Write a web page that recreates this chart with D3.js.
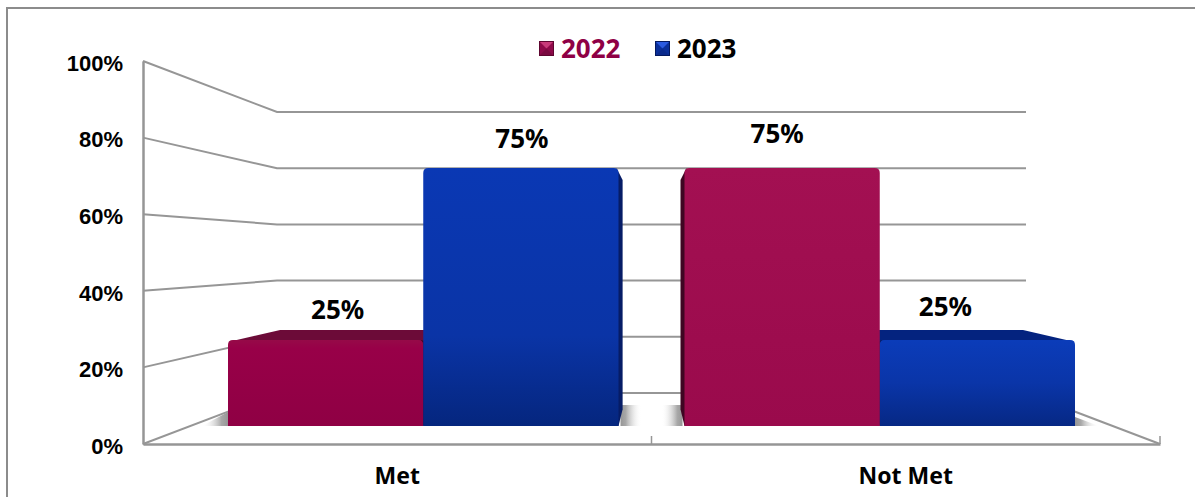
<!DOCTYPE html>
<html>
<head>
<meta charset="utf-8">
<script src="https://cdn.jsdelivr.net/npm/d3@7/dist/d3.min.js"></script>
<style>
  html, body { margin: 0; padding: 0; background: #fff; overflow: hidden; }
  svg { display: block; }
</style>
</head>
<body>
<svg id="chart" width="1195" height="497"></svg>
<script>
const categories = ["Met", "Not Met"];
const seriesNames = ["2022", "2023"];
const values2022 = [25, 75];
const values2023 = [75, 25];
const yTicks = [0, 20, 40, 60, 80, 100];

const svg = d3.select("#chart");
const defs = svg.append("defs");
const GRID = "#969696";

// Vertical gradients for the bar faces
function gradient(id, stops, dir) {
  const g = defs.append("linearGradient").attr("id", id)
    .attr("x1", 0).attr("y1", 0)
    .attr("x2", dir === "h" ? 1 : 0).attr("y2", dir === "h" ? 0 : 1);
  stops.forEach(([o, c, a]) => g.append("stop").attr("offset", o).attr("stop-color", c)
    .attr("stop-opacity", a === undefined ? 1 : a));
}
gradient("red-tall", [[0, "#a31052"], [1, "#9a0a4c"]]);
gradient("red-short", [[0, "#960a48"], [0.1, "#980048"], [1, "#8f0044"]]);
gradient("blue-tall", [[0, "#0a38b4"], [0.65, "#0a34a6"], [1, "#05267e"]]);
gradient("blue-short", [[0, "#0b3cb9"], [0.5, "#0a35a8"], [1, "#062884"]]);
gradient("shade-right", [[0, "#969696"], [0.25, "#a8a8a8"], [1, "#ffffff", 0]], "h");
gradient("shade-left", [[0, "#ffffff", 0], [0.75, "#a8a8a8"], [1, "#969696"]], "h");

// Outer frame: top and left edges only
svg.append("path").attr("d", "M7,497V8H1195").attr("fill", "none")
  .attr("stroke", "#8c8c8c").attr("stroke-width", 2);

// Wall scales: the front edge of the box and its back plane
const yFront = d3.scaleLinear().domain([0, 100]).range([444, 61]);
const yBack = d3.scaleLinear().domain([0, 100]).range([393, 112]);
const xFrontEdges = d3.scaleLinear().domain([0, 1]).range([143, 1160]);
const xBackEdges = d3.scaleLinear().domain([0, 1]).range([277, 1026]);

const walls = svg.append("g").attr("fill", "none").attr("stroke", GRID).attr("stroke-width", 2);
yTicks.forEach(t => {
  walls.append("path").attr("d", d3.line()([
    [xFrontEdges(0), yFront(t)],
    [xBackEdges(0), yBack(t)],
    [xBackEdges(1), yBack(t)]
  ]));
});
walls.append("path").attr("d", d3.line()([
  [xBackEdges(1), yBack(0)],
  [xFrontEdges(1), yFront(0)]
]));

// Bar scales on the front plane
const x0 = d3.scaleBand().domain(categories).range([228, 1075]).paddingInner(0.1446);
const x1 = d3.scaleBand().domain(seriesNames).range([0, x0.bandwidth()]);
const yBar = d3.scaleLinear().domain([0, 100]).range([426, 82]);

// Where a front-plane point lands on the back face of a bar
const vanish = { x: 652, y: 258 }, depth = 0.877;
const backX = x => vanish.x + (x - vanish.x) * depth;
const backY = y => vanish.y + (y - vanish.y) * depth;

const bars = [];
categories.forEach((c, i) => {
  bars.push({ cat: c, series: "2022", value: values2022[i], hue: "red" });
  bars.push({ cat: c, series: "2023", value: values2023[i], hue: "blue" });
});
bars.forEach(b => {
  b.left = x0(b.cat) + x1(b.series);
  b.right = b.left + x1.bandwidth();
  b.top = yBar(b.value);
  b.base = yBar(0);
});

// Soft contact shadows on the floor, beside the two outer and two inner bar edges
const floorTop = 405, floorBase = yBar(0);
const shadows = svg.append("g");
const [metL, metR] = [x0("Met"), x0("Met") + x0.bandwidth()];
const [notL, notR] = [x0("Not Met"), x0("Not Met") + x0.bandwidth()];
shadows.append("path").attr("fill", "url(#shade-left)")
  .attr("d", d3.line()([[metL, floorBase - 14], [metL, floorBase], [metL - 26, floorBase]]));
shadows.append("path").attr("fill", "url(#shade-right)")
  .attr("d", d3.line()([[notR, floorBase - 9], [notR, floorBase], [notR + 24, floorBase]]));
shadows.append("rect").attr("x", metR + 2).attr("width", 21).attr("y", floorTop)
  .attr("height", floorBase - floorTop).attr("fill", "url(#shade-right)");
shadows.append("rect").attr("x", notL - 23).attr("width", 21).attr("y", floorTop)
  .attr("height", floorBase - floorTop).attr("fill", "url(#shade-left)");

// Bars: short ones first so the tall ones overlap their tops
const palette = {
  red: { top: "#6c0b38", side: "#3f0622" },
  blue: { top: "#04237f", side: "#061c66" }
};
const barLayer = svg.append("g");
bars.slice().sort((a, b) => a.value - b.value).forEach(b => {
  const g = barLayer.append("g");
  const colours = palette[b.hue];
  const r = 5;
  if (backY(b.top) < b.top) {
    g.append("path").attr("fill", colours.top).attr("d", d3.line()([
      [b.left, b.top + 2],
      [backX(b.left), backY(b.top)],
      [backX(b.right), backY(b.top)],
      [b.right, b.top + 2]
    ]));
  }
  if (backX(b.left) < b.left) {
    g.append("path").attr("fill", colours.side).attr("d", d3.line()([
      [b.left + 2, b.top],
      [backX(b.left), b.top + 12],
      [backX(b.left), backY(b.base) + 4],
      [b.left, b.base],
      [b.left + 2, b.base]
    ]));
  }
  if (backX(b.right) > b.right) {
    g.append("path").attr("fill", colours.side).attr("d", d3.line()([
      [b.right - 2, b.top],
      [backX(b.right), b.top + 12],
      [backX(b.right), backY(b.base) + 4],
      [b.right, b.base],
      [b.right - 2, b.base]
    ]));
  }
  const p = d3.path();
  p.moveTo(b.left, b.base);
  p.lineTo(b.left, b.top + r);
  p.quadraticCurveTo(b.left, b.top, b.left + r, b.top);
  p.lineTo(b.right - r, b.top);
  p.quadraticCurveTo(b.right, b.top, b.right, b.top + r);
  p.lineTo(b.right, b.base);
  p.closePath();
  g.append("path").attr("d", p.toString())
    .attr("fill", `url(#${b.hue}-${b.value > 50 ? "tall" : "short"})`);
});

const LABEL_FONT = "'Noto Sans', sans-serif";

// Value labels sit a little off-centre over their bars
const labelNudge = { "Met2022": [12, -21], "Met2023": [1, -20], "Not Met2022": [-5, -25], "Not Met2023": [-32, -24] };
svg.append("g").selectAll("text").data(bars).join("text")
  .attr("x", d => (d.left + d.right) / 2 + labelNudge[d.cat + d.series][0])
  .attr("y", d => d.top + labelNudge[d.cat + d.series][1])
  .attr("text-anchor", "middle")
  .attr("font-family", LABEL_FONT).attr("font-weight", 700).attr("font-size", 26)
  .attr("fill", "#000")
  .text(d => d.value + "%");

// Value axis on the front edge of the box
const yAxis = svg.append("g").attr("transform", `translate(${xFrontEdges(0)},0)`)
  .call(d3.axisLeft(yFront).tickValues(yTicks).tickFormat(d => d + "%").tickSize(0).tickPadding(20));
yAxis.select(".domain").attr("stroke", GRID).attr("stroke-width", 2.5);
yAxis.selectAll("text").attr("font-family", "'Liberation Sans', Arial, sans-serif")
  .attr("font-weight", 700).attr("font-size", 22).attr("fill", "#000").attr("dy", "0.42em");

// Category axis along the front edge of the floor
const xAxisScale = d3.scaleBand().domain(categories).range([xFrontEdges(0), xFrontEdges(1)]);
const xAxis = svg.append("g").attr("transform", `translate(0,${yFront(0)})`)
  .call(d3.axisBottom(xAxisScale).tickSize(0).tickPadding(24).tickSizeOuter(0));
xAxis.select(".domain").attr("stroke", GRID).attr("stroke-width", 2.5);
xAxis.selectAll("text").attr("font-family", LABEL_FONT)
  .attr("font-weight", 700).attr("font-size", 23).attr("fill", "#000");
// Separators between categories and at the far end
[xAxisScale("Not Met"), xFrontEdges(1)].forEach(xp => {
  xAxis.append("line").attr("x1", xp).attr("x2", xp).attr("y1", 0).attr("y2", -8)
    .attr("stroke", GRID).attr("stroke-width", 1.5);
});

// Legend with bevelled swatches
const legendX = d3.scaleOrdinal().domain(seriesNames).range([539, 655]);
const legendHue = { "2022": ["#8f0a4a", "#c93a7a", "#7a0a40", "#5f0630"], "2023": ["#0a2f9a", "#2a5ae0", "#0a2a8c", "#04195f"] };
const legendText = { "2022": "#8f0045", "2023": "#000" };
const legend = svg.append("g").selectAll("g").data(seriesNames).join("g")
  .attr("transform", d => `translate(${legendX(d)},41)`);
legend.each(function (d) {
  const g = d3.select(this), s = 15, c = s / 2, [base, hi, lo, edge] = legendHue[d];
  g.append("rect").attr("width", s).attr("height", s).attr("fill", base);
  g.append("path").attr("fill", hi).attr("d", d3.line()([[0, 0], [s, 0], [c, c]]));
  g.append("path").attr("fill", lo).attr("d", d3.line()([[0, s], [s, s], [c, c]]));
  g.append("rect").attr("x", 0.5).attr("y", 0.5).attr("width", s - 1).attr("height", s - 1)
    .attr("fill", "none").attr("stroke", edge).attr("stroke-width", 1);
});
legend.append("text").attr("x", 22).attr("y", 16.5)
  .attr("font-family", LABEL_FONT).attr("font-weight", 700).attr("font-size", 26)
  .attr("fill", d => legendText[d]).text(d => d);
</script>
</body>
</html>
